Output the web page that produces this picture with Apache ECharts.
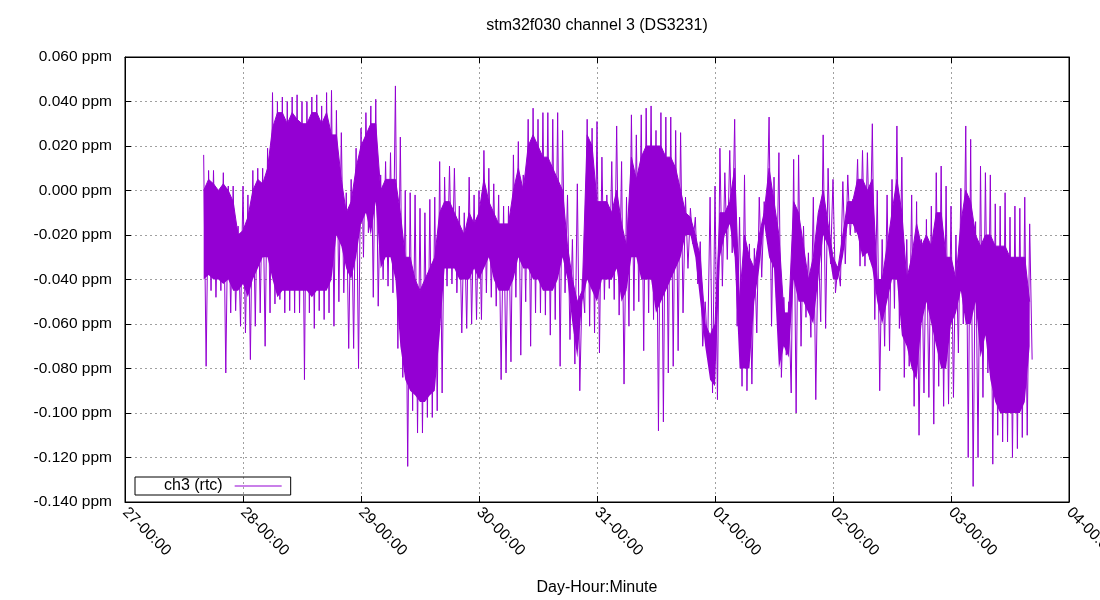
<!DOCTYPE html>
<html>
<head>
<meta charset="utf-8">
<script src="https://cdn.jsdelivr.net/npm/echarts@6/dist/echarts.min.js"></script>
<style>
  html, body { margin: 0; padding: 0; background: #fff; }
  #chart { width: 1100px; height: 600px; }
</style>
</head>
<body>
<div id="chart"></div>
<script>
  /*----- data: hourly readings, 27-16:00 .. 03-16:00 -----*/
  var firstSample = Date.UTC(2019, 11, 27, 16, 0, 0);
  var sampleStep = 3600 * 1000;

  // extreme high / low of each hour
  var hiVals = [
    0.016, 0.009, 0.009, -0.001, 0.008, 0.002, 0.002, -0.016, 0.002, -0.002,
    0.009, 0.010, 0.010, 0.019, 0.044, 0.040, 0.042, 0.040, 0.042, 0.043,
    0.040, 0.040, 0.042, 0.043, 0.038, 0.044, 0.045, 0.036, 0.026, -0.001,
    0.005, 0.019, 0.028, 0.035, 0.038, 0.041, 0.007, 0.013, 0.017, 0.047,
    0.024, 0.000, -0.001, -0.002, -0.008, -0.010, -0.004, -0.003, 0.013, 0.006,
    0.011, 0.010, -0.007, -0.010, 0.006, -0.002, 0.000, 0.018, 0.010, 0.003,
    -0.002, -0.007, -0.007, 0.016, 0.022, 0.007, 0.032, 0.037, 0.032, 0.035,
    0.035, 0.032, 0.035, 0.027, -0.002, -0.022, 0.003, -0.040, 0.032, 0.028,
    0.031, 0.015, -0.002, 0.013, 0.029, 0.013, -0.003, 0.034, 0.025, 0.034,
    0.037, 0.038, 0.027, 0.035, 0.033, 0.033, 0.027, 0.026, -0.003, -0.008,
    -0.012, -0.023, -0.050, -0.003, 0.002, 0.019, 0.008, 0.018, 0.032, -0.012,
    0.007, -0.024, -0.026, -0.003, -0.005, 0.033, 0.006, 0.017, -0.048, -0.050,
    0.014, 0.016, -0.016, -0.028, -0.003, -0.021, 0.025, 0.010, 0.005, -0.034,
    0.004, 0.007, -0.004, 0.014, 0.018, 0.017, 0.030, 0.000, -0.022, -0.002,
    0.005, 0.029, 0.015, -0.022, -0.002, -0.005, -0.022, -0.013, -0.007, 0.008,
    0.011, 0.002, -0.007, -0.020, 0.001, 0.029, 0.023, -0.014, 0.011, 0.008,
    0.007, -0.006, -0.007, -0.001, -0.012, -0.007, -0.008, -0.003, -0.015
  ];

  var loVals = [
    -0.079, -0.045, -0.048, -0.045, -0.082, -0.055, -0.054, -0.061, -0.064, -0.076,
    -0.061, -0.055, -0.070, -0.055, -0.051, -0.049, -0.055, -0.054, -0.055, -0.055,
    -0.085, -0.055, -0.062, -0.054, -0.058, -0.055, -0.061, -0.050, -0.046, -0.071,
    -0.071, -0.080, -0.030, -0.019, -0.048, -0.052, -0.040, -0.043, -0.046, -0.071,
    -0.084, -0.124, -0.099, -0.109, -0.109, -0.102, -0.102, -0.099, -0.091, -0.043,
    -0.042, -0.046, -0.064, -0.062, -0.060, -0.058, -0.058, -0.046, -0.048, -0.052,
    -0.085, -0.082, -0.077, -0.048, -0.074, -0.050, -0.070, -0.055, -0.055, -0.056,
    -0.065, -0.058, -0.079, -0.046, -0.067, -0.078, -0.090, -0.055, -0.061, -0.064,
    -0.073, -0.049, -0.044, -0.049, -0.056, -0.087, -0.061, -0.054, -0.050, -0.072,
    -0.055, -0.058, -0.108, -0.104, -0.082, -0.079, -0.072, -0.055, -0.035, -0.024,
    -0.042, -0.070, -0.072, -0.091, -0.094, -0.043, -0.031, -0.028, -0.061, -0.088,
    -0.090, -0.087, -0.064, -0.039, -0.019, -0.061, -0.048, -0.084, -0.074, -0.091,
    -0.100, -0.070, -0.057, -0.066, -0.094, -0.059, -0.062, -0.033, -0.046, -0.043,
    -0.033, -0.020, -0.019, -0.034, -0.034, -0.031, -0.058, -0.090, -0.070, -0.072,
    -0.053, -0.062, -0.084, -0.079, -0.097, -0.110, -0.091, -0.093, -0.105, -0.088,
    -0.097, -0.096, -0.093, -0.073, -0.060, -0.120, -0.133, -0.120, -0.093, -0.082,
    -0.123, -0.110, -0.113, -0.113, -0.120, -0.116, -0.111, -0.110, -0.076
  ];

  // edges of the dense band of each hour
  var coreHi = [
    0.000, 0.005, 0.003, 0.000, 0.003, 0.000, -0.005, -0.020, -0.018, -0.012,
    0.000, 0.005, 0.003, 0.010, 0.028, 0.035, 0.035, 0.030, 0.035, 0.032,
    0.030, 0.030, 0.035, 0.035, 0.030, 0.035, 0.025, 0.025, 0.005, -0.010,
    -0.005, 0.010, 0.020, 0.025, 0.030, 0.030, 0.000, 0.005, 0.005, 0.005,
    -0.010, -0.030, -0.030, -0.040, -0.045, -0.040, -0.035, -0.030, -0.010, -0.005,
    -0.005, -0.010, -0.015, -0.020, -0.010, -0.015, -0.010, 0.005, -0.005, -0.010,
    -0.015, -0.015, -0.015, 0.000, 0.010, 0.000, 0.020, 0.025, 0.020, 0.015,
    0.015, 0.010, 0.005, 0.000, -0.025, -0.040, -0.050, -0.045, 0.025, 0.020,
    -0.005, -0.005, -0.005, -0.010, 0.000, -0.015, -0.025, 0.015, 0.005, 0.015,
    0.020, 0.020, 0.020, 0.020, 0.015, 0.015, 0.010, 0.000, -0.010, -0.012,
    -0.020, -0.030, -0.060, -0.065, -0.060, -0.010, -0.010, -0.005, 0.010, -0.050,
    -0.020, -0.030, -0.035, -0.020, -0.010, 0.010, -0.005, -0.020, -0.055, -0.055,
    -0.005, -0.010, -0.025, -0.040, -0.030, -0.010, 0.000, -0.015, -0.030, -0.035,
    -0.020, -0.005, -0.005, 0.005, 0.005, 0.000, 0.005, -0.040, -0.040, -0.025,
    -0.010, 0.005, -0.010, -0.040, -0.030, -0.015, -0.025, -0.020, -0.025, -0.010,
    -0.010, -0.030, -0.030, -0.040, -0.015, 0.000, -0.005, -0.020, -0.025, -0.020,
    -0.020, -0.025, -0.025, -0.025, -0.030, -0.030, -0.030, -0.030, -0.050
  ];

  var coreLo = [
    -0.040, -0.038, -0.040, -0.040, -0.042, -0.040, -0.045, -0.045, -0.042, -0.048,
    -0.040, -0.035, -0.030, -0.030, -0.040, -0.048, -0.045, -0.045, -0.045, -0.045,
    -0.045, -0.045, -0.048, -0.045, -0.045, -0.045, -0.040, -0.020, -0.025, -0.035,
    -0.040, -0.030, -0.015, -0.010, -0.020, -0.005, -0.035, -0.030, -0.030, -0.040,
    -0.070, -0.085, -0.090, -0.092, -0.095, -0.095, -0.092, -0.090, -0.065, -0.035,
    -0.035, -0.035, -0.040, -0.040, -0.040, -0.035, -0.040, -0.035, -0.030, -0.040,
    -0.045, -0.045, -0.045, -0.040, -0.030, -0.035, -0.035, -0.040, -0.040, -0.045,
    -0.045, -0.045, -0.040, -0.030, -0.040, -0.060, -0.075, -0.050, -0.040, -0.045,
    -0.050, -0.040, -0.040, -0.040, -0.035, -0.050, -0.045, -0.030, -0.030, -0.040,
    -0.040, -0.040, -0.055, -0.050, -0.045, -0.040, -0.035, -0.030, -0.020, -0.020,
    -0.030, -0.050, -0.070, -0.085, -0.088, -0.030, -0.020, -0.015, -0.030, -0.080,
    -0.080, -0.080, -0.050, -0.035, -0.015, -0.030, -0.035, -0.080, -0.070, -0.075,
    -0.040, -0.050, -0.050, -0.055, -0.060, -0.040, -0.020, -0.025, -0.040, -0.040,
    -0.030, -0.015, -0.015, -0.020, -0.030, -0.028, -0.035, -0.050, -0.060, -0.050,
    -0.040, -0.040, -0.065, -0.070, -0.080, -0.085, -0.060, -0.050, -0.060, -0.070,
    -0.080, -0.080, -0.060, -0.055, -0.045, -0.060, -0.060, -0.050, -0.075, -0.065,
    -0.085, -0.095, -0.100, -0.100, -0.100, -0.100, -0.100, -0.095, -0.070
  ];

  var yTicks = { min: -0.14, max: 0.06, step: 0.02 };
  var xRange = { min: Date.UTC(2019, 11, 27), max: Date.UTC(2020, 0, 4) };

  // spikes: high at the top of each hour, low half an hour later
  var spikeData = [];
  var bandBase = [];
  var bandWidth = [];
  for (var i = 0; i < hiVals.length; i++) {
    var t = firstSample + i * sampleStep;
    spikeData.push([t, hiVals[i]]);
    spikeData.push([t + sampleStep / 2, loVals[i]]);
    bandBase.push([t, coreLo[i]]);
    bandWidth.push([t, +(coreHi[i] - coreLo[i]).toFixed(3)]);
  }

  function pad2(n) { return (n < 10 ? '0' : '') + n; }

  var purple = '#9400d3';
  var fontName = '"Liberation Sans", Arial, sans-serif';
  var gridDots = { color: '#a0a0a0', width: 1, type: [2, 3] };

  var chart = echarts.init(document.getElementById('chart'));

  var option = {
    animation: false,
    backgroundColor: '#ffffff',
    textStyle: { fontFamily: fontName },
    title: {
      text: 'stm32f030 channel 3 (DS3231)',
      left: 597,
      textAlign: 'center',
      top: 18,
      padding: 0,
      textStyle: { fontSize: 16, fontWeight: 'normal', color: '#000', fontFamily: fontName }
    },
    legend: {
      left: 135,
      top: 477,
      align: 'right',
      icon: 'rect',
      itemWidth: 47,
      itemHeight: 1,
      padding: [1, 9, 1, 29],
      borderColor: '#000',
      borderWidth: 1,
      textStyle: { fontSize: 16, color: '#000', padding: [0, 7, 0, 0], fontFamily: fontName },
      data: ['ch3 (rtc)']
    },
    grid: {
      left: 125,
      right: 31,
      top: 57,
      bottom: 98,
      containLabel: false,
      outerBoundsMode: 'none',
      show: true,
      borderColor: '#000',
      borderWidth: 1,
      backgroundColor: 'transparent'
    },
    xAxis: [{
      type: 'time',
      min: xRange.min,
      max: xRange.max,
      interval: 86400000,
      minInterval: 86400000,
      maxInterval: 86400000,
      name: 'Day-Hour:Minute',
      nameLocation: 'middle',
      nameGap: 78,
      nameTextStyle: { fontSize: 16, color: '#000', fontFamily: fontName },
      axisLine: { onZero: false, lineStyle: { color: '#000' } },
      axisTick: { inside: true, length: 6, lineStyle: { color: '#000' } },
      axisLabel: {
        rotate: -45,
        margin: 8,
        fontSize: 15.5,
        color: '#000',
        showMinLabel: true,
        showMaxLabel: true,
        hideOverlap: false,
        formatter: function (v) {
          var d = new Date(v);
          return pad2(d.getUTCDate()) + '-' + pad2(d.getUTCHours()) + ':' + pad2(d.getUTCMinutes());
        }
      },
      splitLine: { show: true, lineStyle: gridDots }
    }, {
      type: 'time',
      position: 'top',
      min: xRange.min,
      max: xRange.max,
      interval: 86400000,
      minInterval: 86400000,
      maxInterval: 86400000,
      axisLine: { onZero: false, lineStyle: { color: '#000' } },
      axisTick: { inside: true, length: 6, lineStyle: { color: '#000' } },
      axisLabel: { show: false },
      splitLine: { show: false }
    }],
    yAxis: [{
      type: 'value',
      min: yTicks.min,
      max: yTicks.max,
      interval: yTicks.step,
      axisLine: { show: true, onZero: false, lineStyle: { color: '#000' } },
      axisTick: { show: true, inside: true, length: 6, lineStyle: { color: '#000' } },
      axisLabel: {
        margin: 13,
        fontSize: 15.5,
        color: '#000',
        formatter: function (v) { return v.toFixed(3) + ' ppm'; }
      },
      splitLine: { show: true, lineStyle: gridDots }
    }, {
      type: 'value',
      position: 'right',
      min: yTicks.min,
      max: yTicks.max,
      interval: yTicks.step,
      axisLine: { show: true, onZero: false, lineStyle: { color: '#000' } },
      axisTick: { show: true, inside: true, length: 6, lineStyle: { color: '#000' } },
      axisLabel: { show: false },
      splitLine: { show: false }
    }],
    series: [{
      name: 'band-base',
      type: 'line',
      stack: 'core',
      stackStrategy: 'all',
      data: bandBase,
      symbol: 'none',
      silent: true,
      lineStyle: { opacity: 0 },
      z: 2
    }, {
      name: 'band',
      type: 'line',
      stack: 'core',
      stackStrategy: 'all',
      data: bandWidth,
      symbol: 'none',
      silent: true,
      lineStyle: { width: 1, color: purple },
      areaStyle: { color: purple, opacity: 1 },
      z: 2
    }, {
      name: 'ch3 (rtc)',
      type: 'line',
      data: spikeData,
      showSymbol: false,
      symbol: 'none',
      sampling: 'none',
      color: purple,
      lineStyle: { width: 1, color: purple },
      z: 3
    }]
  };

  chart.setOption(option);
</script>
</body>
</html>
